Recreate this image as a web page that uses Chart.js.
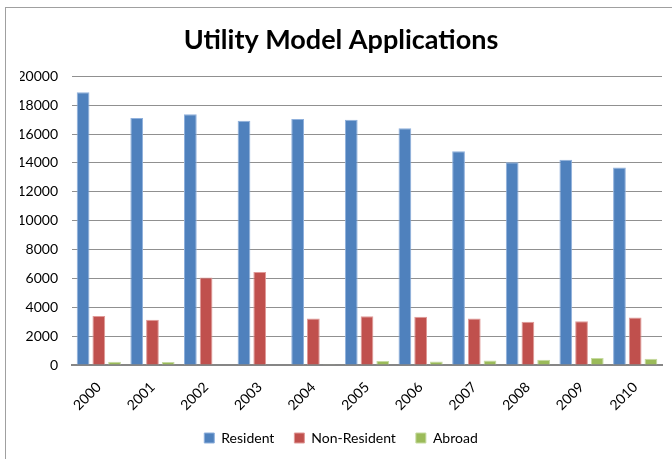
<!DOCTYPE html>
<html>
<head>
<meta charset="utf-8">
<script src="https://cdn.jsdelivr.net/npm/chart.js@4.4.0/dist/chart.umd.min.js"></script>
<style>
  body { margin: 0; background: #fff; overflow: hidden; }
  #wrap { position: relative; width: 672px; height: 459px; }
  #frame { position: absolute; left: 5px; top: 7px; width: 700px; height: 500px; border: 1px solid #a0a0a0; box-sizing: border-box; }
  #mycanvas { position: absolute; left: 0; top: 0; }
</style>
</head>
<body>
<div id="wrap">
  <div id="frame"></div>
  <canvas id="mycanvas" width="672" height="459"></canvas>
</div>
<script>
var years = ["2000", "2001", "2002", "2003", "2004", "2005", "2006", "2007", "2008", "2009", "2010"];
var resident = [18900, 17110, 17370, 16930, 17050, 17000, 16400, 14810, 14050, 14230, 13680];
var nonResident = [3390, 3140, 6070, 6440, 3230, 3370, 3350, 3230, 3000, 3040, 3300];
var abroad = [230, 210, 30, 40, 20, 280, 250, 320, 370, 480, 440];

var font = "Lato, 'Open Sans', sans-serif";

var chartdata = {
    labels: years,
    datasets: [
        {
            label: 'Resident',
            backgroundColor: '#4F81BD',
            borderColor: '#8fb0dc',
            borderWidth: 1,
            data: resident
        },
        {
            label: 'Non-Resident',
            backgroundColor: '#C0504D',
            borderColor: '#e09a98',
            borderWidth: 1,
            data: nonResident
        },
        {
            label: 'Abroad',
            backgroundColor: '#9BBB59',
            borderColor: '#c6dba0',
            borderWidth: 1,
            data: abroad
        }
    ]
};

var ctx = document.getElementById("mycanvas");

var barGraph = new Chart(ctx, {
    type: 'bar',
    data: chartdata,
    options: {
        responsive: false,
        animation: false,
        devicePixelRatio: 1,
        layout: { padding: { left: 20, right: 10, top: 0, bottom: 4 } },
        datasets: { bar: { categoryPercentage: 0.88, barPercentage: 0.81 } },
        plugins: {
            title: {
                display: true,
                text: 'Utility Model Applications',
                color: '#000',
                font: { family: font, size: 27, weight: 'bold' },
                padding: { top: 24, bottom: 20 }
            },
            legend: {
                position: 'bottom',
                labels: {
                    color: '#000',
                    font: { family: font, size: 14 },
                    boxWidth: 10,
                    boxHeight: 10,
                    padding: 20
                }
            },
            tooltip: { enabled: false }
        },
        scales: {
            x: {
                afterFit: function(scale) { scale.height = 46; },
                grid: { display: false },
                border: { color: '#868686', width: 2 },
                ticks: {
                    color: '#000',
                    font: { family: font, size: 14 },
                    minRotation: 45,
                    maxRotation: 45,
                    padding: 6
                }
            },
            y: {
                min: 0,
                max: 20000,
                afterFit: function(scale) { scale.width = 52; },
                grid: { color: '#909090', lineWidth: 1, drawTicks: false },
                border: { display: false },
                ticks: {
                    stepSize: 2000,
                    color: '#000',
                    font: { family: font, size: 14 },
                    padding: 14,
                    callback: function(v) { return String(v); }
                }
            }
        }
    }
});
</script>
</body>
</html>
